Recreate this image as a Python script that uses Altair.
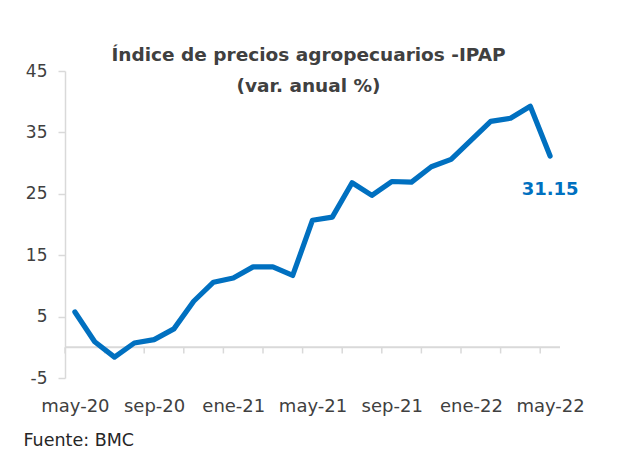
import altair as alt
import pandas as pd

months = ["may-20", "jun-20", "jul-20", "ago-20", "sep-20", "oct-20", "nov-20", "dic-20",
          "ene-21", "feb-21", "mar-21", "abr-21", "may-21", "jun-21", "jul-21", "ago-21",
          "sep-21", "oct-21", "nov-21", "dic-21", "ene-22", "feb-22", "mar-22", "abr-22",
          "may-22"]
values = [5.75, 0.9, -1.6, 0.7, 1.25, 3.0, 7.5, 10.6, 11.3, 13.1, 13.1, 11.7, 20.7, 21.2,
          26.8, 24.75, 27.0, 26.9, 29.4, 30.6, 33.7, 36.8, 37.3, 39.25, 31.15]
y_ticks = [-5, 5, 15, 25, 35, 45]
label_every = 4
tick_every = 2

n = len(months)
idx = list(range(n))
df = pd.DataFrame({"i": idx, "mes": months, "v": values})
last = df.tail(1)

shown = [i for i in idx if i % label_every == 0]
label_expr = "[" + ",".join("'%s'" % months[i] for i in shown) + "][round(datum.value/%d)]" % label_every

zero_df = pd.DataFrame({"i": [-0.5], "i2": [n - 0.5], "v": [0]})
tick_df = pd.DataFrame({"i": [k - 0.5 for k in range(0, n, tick_every)], "v": 0, "v2": -1.0})

FONT = "DejaVu Sans"
TXT = "#404040"
BLUE = "#0070C0"
GRID = "#d9d9d9"

x_axis = alt.Axis(values=shown, labelExpr=label_expr, domain=False, ticks=False, grid=False,
                  labelFontSize=18, labelColor=TXT, labelFont=FONT, labelPadding=19,
                  title="Fuente: BMC", titleFont=FONT, titleFontSize=17.5, titleFontWeight="normal",
                  titleColor="#262626", titleAnchor="start", titleAlign="left", titleBaseline="middle",
                  titleX=-42, titleY=62)
y_axis = alt.Axis(values=y_ticks, grid=False, domainColor=GRID, domainWidth=1.5, tickColor=GRID,
                  tickWidth=1.5, tickSize=7, labelFontSize=17, labelColor=TXT, labelFont=FONT,
                  labelPadding=11, title=None,
                  labelExpr="datum.value < 0 ? '-' + abs(datum.value) : '' + datum.value")
x_scale = alt.Scale(domain=[-0.5, n - 0.5], nice=False, zero=False)
y_scale = alt.Scale(domain=[-5, 45], nice=False, zero=False)

X = alt.X("i:Q", scale=x_scale, axis=x_axis)
Y = alt.Y("v:Q", scale=y_scale, axis=y_axis)

zero_line = alt.Chart(zero_df).mark_rule(color=GRID, strokeWidth=2).encode(x=X, x2="i2:Q", y=Y)
ticks = alt.Chart(tick_df).mark_rule(color=GRID, strokeWidth=1.5).encode(x=X, y=Y, y2="v2:Q")
line = alt.Chart(df).mark_line(color=BLUE, strokeWidth=5.2, strokeCap="round",
                               strokeJoin="round").encode(x=X, y=Y)
label = alt.Chart(last).mark_text(dy=34, fontSize=18, fontWeight="bold", font=FONT,
                                  color=BLUE).encode(x=X, y=Y, text=alt.Text("v:Q", format=".2f"))

chart = alt.layer(zero_line, ticks, line, label).properties(
    width=495, height=307,
    title=alt.TitleParams(["Índice de precios agropecuarios  -IPAP", "(var. anual %)"],
                          font=FONT, fontSize=18.5, fontWeight="bold", color=TXT,
                          anchor="middle", lineHeight=31, dy=37, dx=-4),
    autosize=alt.AutoSizeParams(type="none"),
    padding={"left": 65, "top": 71, "right": 59, "bottom": 87},
    background="white",
).configure_view(stroke=None)

chart.save("out.html", embed_options={"renderer": "svg", "actions": False})
